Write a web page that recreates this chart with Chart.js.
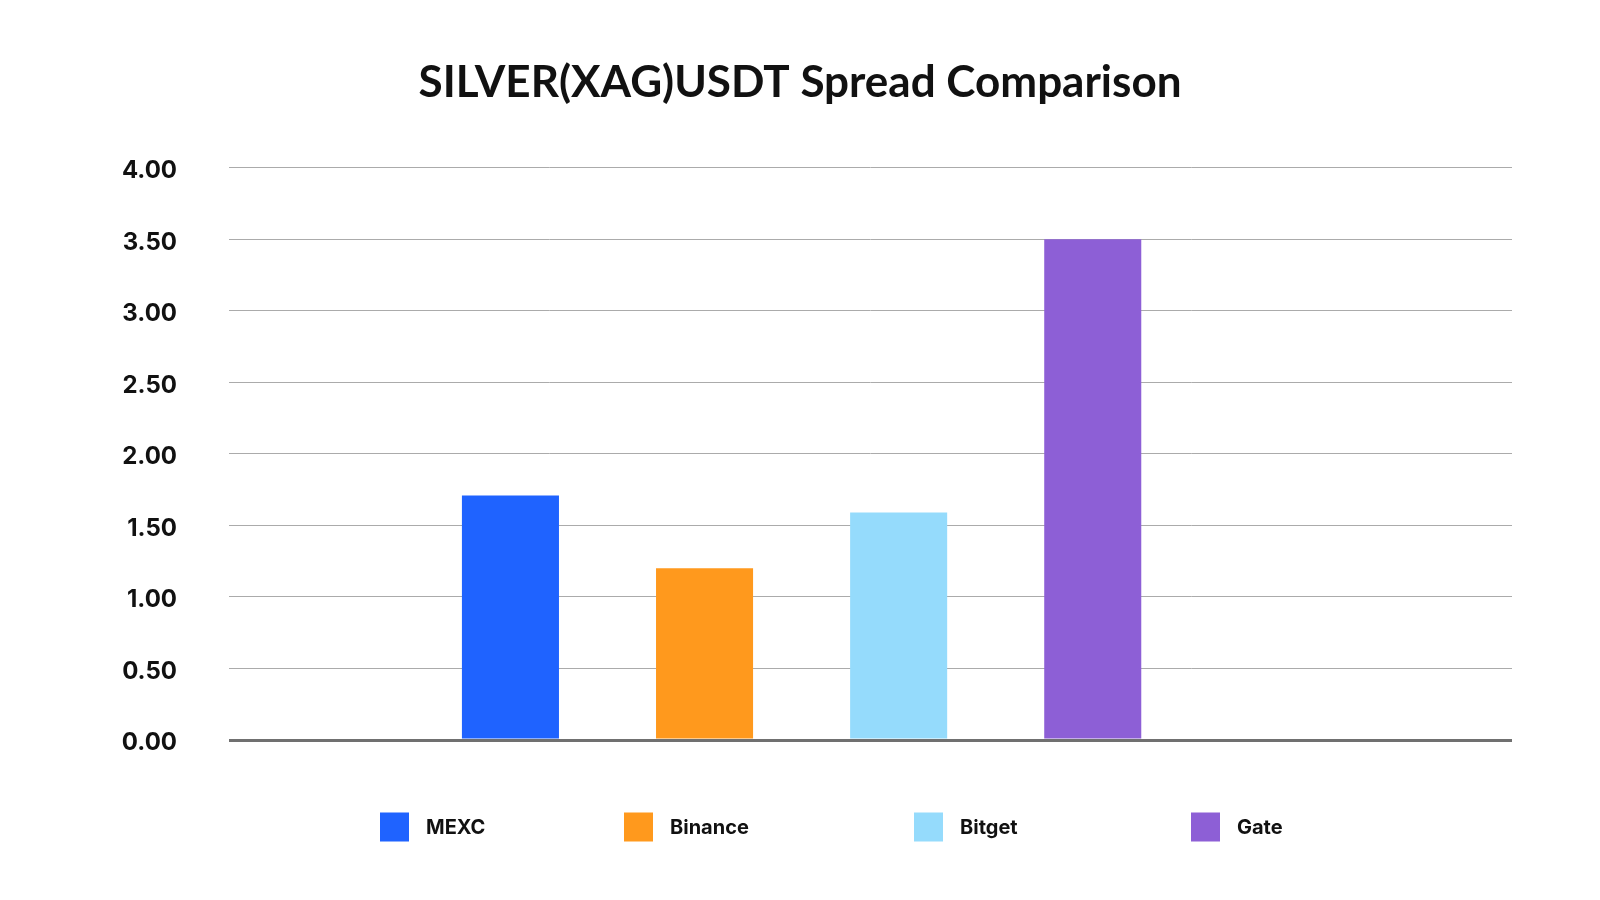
<!DOCTYPE html>
<html>
<head>
<meta charset="utf-8">
<title>SILVER(XAG)USDT Spread Comparison</title>
<script src="https://cdn.jsdelivr.net/npm/chart.js@4.4.1/dist/chart.umd.min.js"></script>
<style>
  html, body { margin: 0; padding: 0; background: #fff; }
  #wrap { width: 1600px; height: 900px; }
</style>
</head>
<body>
<div id="wrap"><canvas id="myChart" width="1600" height="900"></canvas></div>
<script>
const exchanges = ['MEXC', 'Binance', 'Bitget', 'Gate'];
const spreads = [1.71, 1.20, 1.59, 3.50];
const colors = ['#1F63FF', '#FF991D', '#95DBFC', '#8D5FD6'];
const yTicks = [0, 0.5, 1, 1.5, 2, 2.5, 3, 3.5, 4];

// leyenda propia: los items no van con huecos iguales como en Chart.js
const bottomLegend = {
    id: 'bottomLegend',
    afterDraw(chart) {
        const ctx = chart.ctx;
        const box = 29, gapText = 17;
        const slots = [380, 624, 914, 1191];
        const cy = 827;
        ctx.save();
        ctx.font = 'bold 20px Inter';
        ctx.textBaseline = 'middle';
        chart.data.datasets.forEach((ds, i) => {
            const x = slots[i];
            ctx.fillStyle = ds.backgroundColor;
            ctx.fillRect(x, cy - box / 2, box, box);
            ctx.fillStyle = '#111';
            ctx.fillText(ds.label, x + box + gapText, cy + 1);
        });
        ctx.restore();
    }
};

const ctx = document.getElementById('myChart');

new Chart(ctx, {
    type: 'bar',
    data: {
        datasets: exchanges.map((name, i) => ({
            label: name,
            data: [{ x: i + 1, y: spreads[i] }],
            backgroundColor: colors[i],
            borderWidth: 0
        }))
    },
    options: {
        responsive: false,
        animation: false,
        grouped: false,
        categoryPercentage: 1,
        barPercentage: 0.5,
        layout: { padding: { left: 88, right: 88, top: 0, bottom: 160 } },
        plugins: {
            legend: { display: false },
            tooltip: { enabled: false },
            title: {
                display: true,
                text: 'SILVER(XAG)USDT Spread Comparison',
                color: '#111',
                font: { family: 'Lato', size: 44, weight: 'bold' },
                padding: { top: 56, bottom: 59 }
            }
        },
        scales: {
            x: {
                type: 'linear',
                display: false,
                offset: false,
                min: -0.45,
                max: 6.16,
                // solo una marca por barra, para que el ancho salga del paso entre barras
                afterBuildTicks: scale => {
                    scale.ticks = exchanges.map((_, i) => ({ value: i + 1 }));
                }
            },
            y: {
                min: 0,
                max: 4,
                afterBuildTicks: scale => {
                    scale.ticks = yTicks.map(v => ({ value: v }));
                },
                afterFit: scale => { scale.width = 141; },
                border: { display: false },
                grid: {
                    drawTicks: false,
                    color: c => c.tick && c.tick.value === 0 ? '#707070' : '#ababab',
                    lineWidth: c => c.tick && c.tick.value === 0 ? 3 : 1
                },
                ticks: {
                    padding: 52,
                    labelOffset: 3,
                    color: '#111',
                    font: { family: 'Inter', size: 24, weight: 'bold' },
                    callback: v => Number(v).toFixed(2)
                }
            }
        }
    },
    plugins: [bottomLegend]
});
</script>
</body>
</html>
